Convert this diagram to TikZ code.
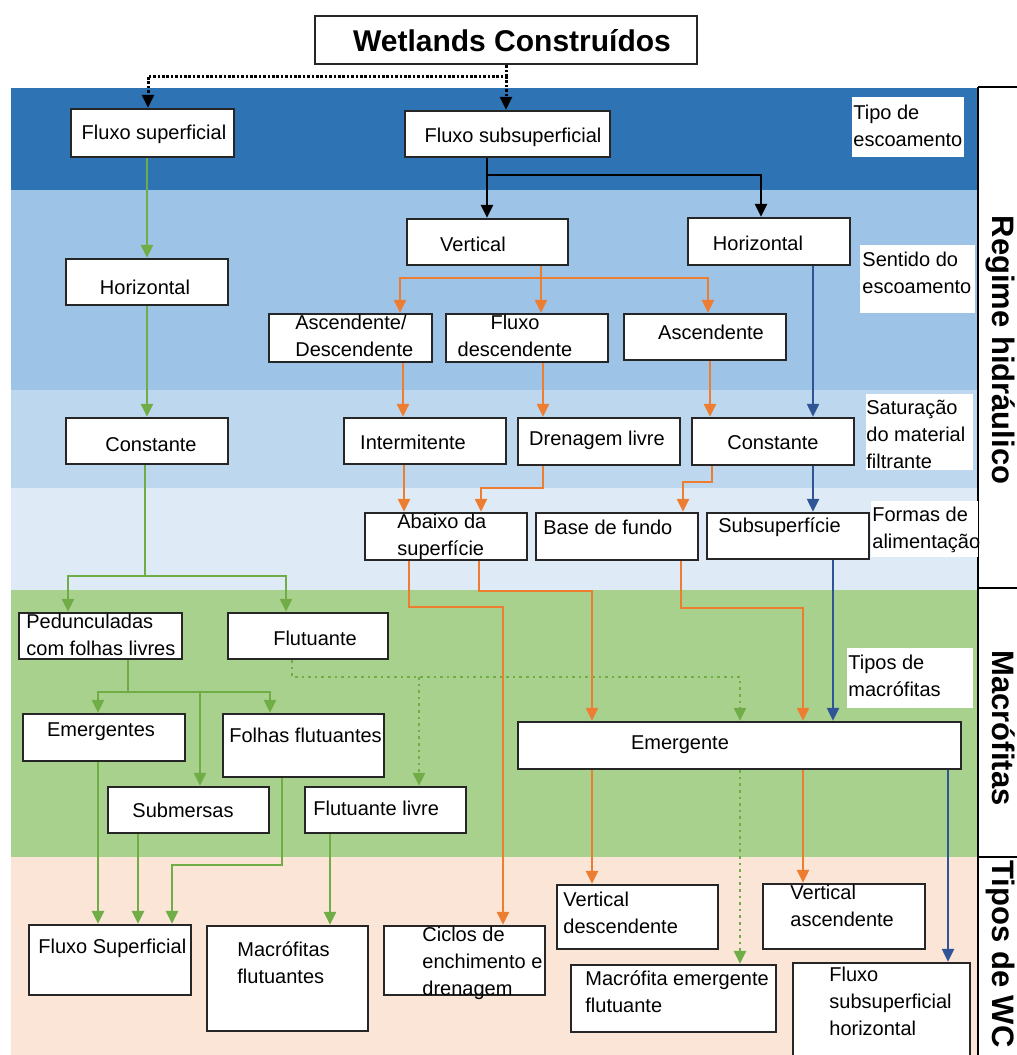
\documentclass[tikz,border=0pt]{standalone}
\usepackage{fontspec}
\setmainfont{Liberation Sans}
\usetikzlibrary{arrows.meta,fit}
\definecolor{bandA}{HTML}{2E74B5}
\definecolor{bandB}{HTML}{9DC3E6}
\definecolor{bandC}{HTML}{BDD7EE}
\definecolor{bandD}{HTML}{DEEBF7}
\definecolor{bandE}{HTML}{A9D18E}
\definecolor{bandF}{HTML}{FBE5D6}
\definecolor{corO}{HTML}{ED7D31}
\definecolor{corG}{HTML}{70AD47}
\definecolor{corB}{HTML}{2F5597}
\tikzset{
  boxst/.style={draw=black!85, line width=1.2pt, fill=white, inner sep=0pt},
  lblbox/.style={fill=white, draw=none, inner sep=0pt},
  txt/.style={font=\fontsize{10}{13.5}\selectfont, inner sep=0pt, align=left},
  ctxt/.style={txt, align=center},
  sidetxt/.style={font=\bfseries\fontsize{15.5}{18}\selectfont, inner sep=0pt, rotate=-90, anchor=base},
  tipst/.style={-{Triangle[length=6.5pt,width=6pt]}},
  karr/.style={draw=black, line width=1.25pt, tipst},
  kdot/.style={karr, line width=1.5pt, dash pattern=on 1.3pt off 0.9pt},
  garr/.style={draw=corG, line width=1.25pt, tipst},
  gdot/.style={garr, dash pattern=on 1.3pt off 2pt},
  oarr/.style={draw=corO, line width=1.25pt, tipst},
  barr/.style={draw=corB, line width=1.15pt, tipst},
  colline/.style={draw=black, line width=1.2pt}
}
\begin{document}
\begin{tikzpicture}[x=0.5pt,y=-0.5pt]
\useasboundingbox (0,0) rectangle (1017,1055);
% background bands
\fill[white] (0,0) rectangle (1017,1055);
\fill[bandA] (11,88) rectangle (978,190);
\fill[bandB] (11,190) rectangle (978,390);
\fill[bandC] (11,390) rectangle (978,488);
\fill[bandD] (11,488) rectangle (978,590);
\fill[bandE] (11,590) rectangle (978,857);
\fill[bandF] (11,857) rectangle (978,1055);
% right column
\draw[colline] (978,87) -- (1017,87);
\draw[colline] (978,87) -- (978,1055);
\draw[colline] (978,588) -- (1017,588);
\draw[colline] (978,857) -- (1017,857);
\node[sidetxt] (rh) at (992,350) {Regime hidráulico};
\node[sidetxt] (mc) at (992,728) {Macrófitas};
\node[sidetxt] (twc) at (992,954) {Tipos de WC};

% boxes
\node[boxst, line width=1.4pt, fit={(315,16) (697,64)}] (title) {};
\node[boxst, fit={(71,109) (234,157)}] (fs) {};
\node[boxst, fit={(405,111) (610,157)}] (fss) {};
\node[boxst, fit={(407,219) (568,265)}] (vert) {};
\node[boxst, fit={(688,218) (850,265)}] (hr) {};
\node[boxst, fit={(66,259) (228,305)}] (hl) {};
\node[boxst, fit={(66,418) (228,464)}] (cl) {};
\node[boxst, fit={(269,314) (432,362)}] (ad) {};
\node[boxst, fit={(446,314) (608,362)}] (fd) {};
\node[boxst, fit={(624,314) (786,360)}] (asc) {};
\node[boxst, fit={(344,418) (506,464)}] (int) {};
\node[boxst, fit={(518,418) (680,465)}] (dl) {};
\node[boxst, fit={(692,418) (854,465)}] (cr) {};
\node[boxst, fit={(365,513) (527,560)}] (ab) {};
\node[boxst, fit={(536,513) (698,560)}] (bf) {};
\node[boxst, fit={(707,513) (869,559)}] (ss) {};
\node[boxst, fit={(19,613) (182,659)}] (ped) {};
\node[boxst, fit={(228,613) (388,659)}] (flut) {};
\node[boxst, fit={(23,714) (185,761)}] (emg) {};
\node[boxst, fit={(223,714) (384,777)}] (ff) {};
\node[boxst, fit={(108,787) (269,833)}] (sub) {};
\node[boxst, fit={(305,787) (466,833)}] (fl) {};
\node[boxst, fit={(518,722) (961,769)}] (em) {};
\node[boxst, fit={(29,925) (191,995)}] (fsup) {};
\node[boxst, fit={(207,926) (368,1031)}] (mf) {};
\node[boxst, fit={(384,926) (545,995)}] (cic) {};
\node[boxst, fit={(557,885) (718,949)}] (vd) {};
\node[boxst, fit={(763,884) (925,949)}] (va) {};
\node[boxst, fit={(571,965) (776,1032)}] (mef) {};
\node[boxst, fit={(793,963) (970,1075)}] (fsh) {};

% side label boxes
\node[lblbox, fit={(852,97) (964,157)}] (l1) {};
\node[lblbox, fit={(860,245) (975,313)}] (l2) {};
\node[lblbox, fit={(866,394) (973,470)}] (l3) {};
\node[lblbox, fit={(871,501) (978,557)}] (l4) {};
\node[lblbox, fit={(847,648) (973,708)}] (l5) {};

% coordinates for connectors
\coordinate (t1) at (506,76);
\coordinate (t2) at (148,76);
\coordinate (b1) at (487,175);
\coordinate (b2) at (761,175);
\coordinate (g0) at (147,0);
\coordinate (g1) at (145,576);
\coordinate (g2) at (68,576);
\coordinate (g3) at (286,576);
\coordinate (g4) at (128,692);
\coordinate (g5) at (98,692);
\coordinate (g6) at (270,692);
\coordinate (g7) at (200,692);
\coordinate (g8) at (138,0);
\coordinate (g9) at (282,865);
\coordinate (g10) at (172,865);
\coordinate (g11) at (330,0);
\coordinate (gd1) at (292,677);
\coordinate (gd2) at (740,677);
\coordinate (gd3) at (419,677);
\coordinate (o1) at (541,278);
\coordinate (o2) at (400,278);
\coordinate (o3) at (708,278);
\coordinate (o4) at (403,0);
\coordinate (o5) at (543,0);
\coordinate (o6) at (710,0);
\coordinate (o7) at (404,0);
\coordinate (o8) at (543,488);
\coordinate (o9) at (481,488);
\coordinate (o10) at (712,482);
\coordinate (o11) at (683,482);
\coordinate (o12) at (409,607);
\coordinate (o13) at (503,607);
\coordinate (o14) at (479,591);
\coordinate (o15) at (592,591);
\coordinate (o16) at (681,608);
\coordinate (o17) at (803,608);
\coordinate (b3) at (813,0);
\coordinate (b4) at (833,0);
\coordinate (b5) at (948,0);

% black connectors
\draw[kdot] (title.south -| t1) -- (t1) -- (t2) -- (fs.north -| t2);
\draw[kdot] (t1) -- (fss.north -| t1);
\draw[karr] (fss.south -| b1) -- (b1) -- (b2) -- (hr.north -| b2);
\draw[karr] (b1) -- (vert.north -| b1);

% green connectors
\draw[garr] (fs.south -| g0) -- (hl.north -| g0);
\draw[garr] (hl.south -| g0) -- (cl.north -| g0);
\draw[garr] (cl.south -| g1) -- (g1) -- (g2) -- (ped.north -| g2);
\draw[garr] (g1) -- (g3) -- (flut.north -| g3);
\draw[garr] (ped.south -| g4) -- (g4) -- (g5) -- (emg.north -| g5);
\draw[garr] (g4) -- (g6) -- (ff.north -| g6);
\draw[garr] (g7) -- (sub.north -| g7);
\draw[gdot] (flut.south -| gd1) -- (gd1) -- (gd2) -- (em.north -| gd2);
\draw[gdot] (gd3) -- (fl.north -| gd3);
\draw[garr] (emg.south -| g5) -- (fsup.north -| g5);
\draw[garr] (sub.south -| g8) -- (fsup.north -| g8);
\draw[garr] (ff.south -| g9) -- (g9) -- (g10) -- (fsup.north -| g10);
\draw[garr] (fl.south -| g11) -- (mf.north -| g11);
\draw[gdot] (em.south -| gd2) -- (mef.north -| gd2);

% orange connectors
\draw[oarr] (vert.south -| o1) -- (o1) -- (o2) -- (ad.north -| o2);
\draw[oarr] (o1) -- (fd.north -| o1);
\draw[oarr] (o1) -- (o3) -- (asc.north -| o3);
\draw[oarr] (ad.south -| o4) -- (int.north -| o4);
\draw[oarr] (fd.south -| o5) -- (dl.north -| o5);
\draw[oarr] (asc.south -| o6) -- (cr.north -| o6);
\draw[oarr] (int.south -| o7) -- (ab.north -| o7);
\draw[oarr] (dl.south -| o8) -- (o8) -- (o9) -- (ab.north -| o9);
\draw[oarr] (cr.south -| o10) -- (o10) -- (o11) -- (bf.north -| o11);
\draw[oarr] (ab.south -| o12) -- (o12) -- (o13) -- (cic.north -| o13);
\draw[oarr] (ab.south -| o14) -- (o14) -- (o15) -- (em.north -| o15);
\draw[oarr] (bf.south -| o16) -- (o16) -- (o17) -- (em.north -| o17);
\draw[oarr] (em.south -| o15) -- (vd.north -| o15);
\draw[oarr] (em.south -| o17) -- (va.north -| o17);

% blue connectors
\draw[barr] (hr.south -| b3) -- (cr.north -| b3);
\draw[barr] (cr.south -| b3) -- (ss.north -| b3);
\draw[barr] (ss.south -| b4) -- (em.north -| b4);
\draw[barr] (em.south -| b5) -- (fsh.north -| b5);

% texts
\node[inner sep=0pt, font=\bfseries\fontsize{15}{18}\selectfont] (title-t) at (512,41) {Wetlands Construídos};
\node[ctxt, anchor=mid] (fs-t) at (154,134) {Fluxo superficial};
\node[ctxt, anchor=mid] (fss-t) at (513,137) {Fluxo subsuperficial};
\node[ctxt, anchor=mid] (vert-t) at (473,246) {Vertical};
\node[ctxt, anchor=mid] (hr-t) at (758,245) {Horizontal};
\node[ctxt, anchor=mid] (hl-t) at (145,289) {Horizontal};
\node[ctxt, anchor=mid] (cl-t) at (151,446) {Constante};
\node[txt, anchor=north west] (ad-t) at (295,315) {Ascendente/\\Descendente};
\node[ctxt, anchor=north] (fd-t) at (515,315) {Fluxo\\descendente};
\node[ctxt, anchor=mid] (asc-t) at (711,334) {Ascendente};
\node[ctxt, anchor=mid] (int-t) at (413,444) {Intermitente};
\node[ctxt, anchor=mid] (dl-t) at (597,440) {Drenagem livre};
\node[ctxt, anchor=mid] (cr-t) at (773,444) {Constante};
\node[txt, anchor=north west] (ab-t) at (397,514) {Abaixo da\\superfície};
\node[txt, anchor=mid west] (bf-t) at (543,529) {Base de fundo};
\node[txt, anchor=mid west] (ss-t) at (718,527) {Subsuperfície};
\node[txt, anchor=north west] (ped-t) at (26,614) {Pedunculadas\\com folhas livres};
\node[ctxt, anchor=mid] (flut-t) at (315,640) {Flutuante};
\node[ctxt, anchor=mid] (emg-t) at (101,731) {Emergentes};
\node[txt, anchor=mid west] (ff-t) at (229,737) {Folhas flutuantes};
\node[ctxt, anchor=mid] (sub-t) at (183,812) {Submersas};
\node[txt, anchor=mid west] (fl-t) at (313,810) {Flutuante livre};
\node[ctxt, anchor=mid] (em-t) at (680,744) {Emergente};
\node[txt, anchor=mid west] (fsup-t) at (38,948) {Fluxo Superficial};
\node[txt, anchor=north west] (mf-t) at (237,941) {Macrófitas\\flutuantes};
\node[txt, anchor=north west] (cic-t) at (422,927) {Ciclos de\\enchimento e\\drenagem};
\node[txt, anchor=north west] (vd-t) at (563,892) {Vertical\\descendente};
\node[txt, anchor=north west] (va-t) at (790,885) {Vertical\\ascendente};
\node[txt, anchor=north west] (mef-t) at (585,970) {Macrófita emergente\\flutuante};
\node[txt, anchor=north west] (fsh-t) at (829,967) {Fluxo\\subsuperficial\\horizontal};
% side labels
\node[txt, anchor=north west] (l1-t) at (853,105) {Tipo de\\escoamento};
\node[txt, anchor=north west] (l2-t) at (862,252) {Sentido do\\escoamento};
\node[txt, anchor=north west] (l3-t) at (866,400) {Saturação\\do material\\filtrante};
\node[txt, anchor=north west] (l4-t) at (872,507) {Formas de\\alimentação};
\node[txt, anchor=north west] (l5-t) at (848,655) {Tipos de\\macrófitas};
\end{tikzpicture}
\end{document}
